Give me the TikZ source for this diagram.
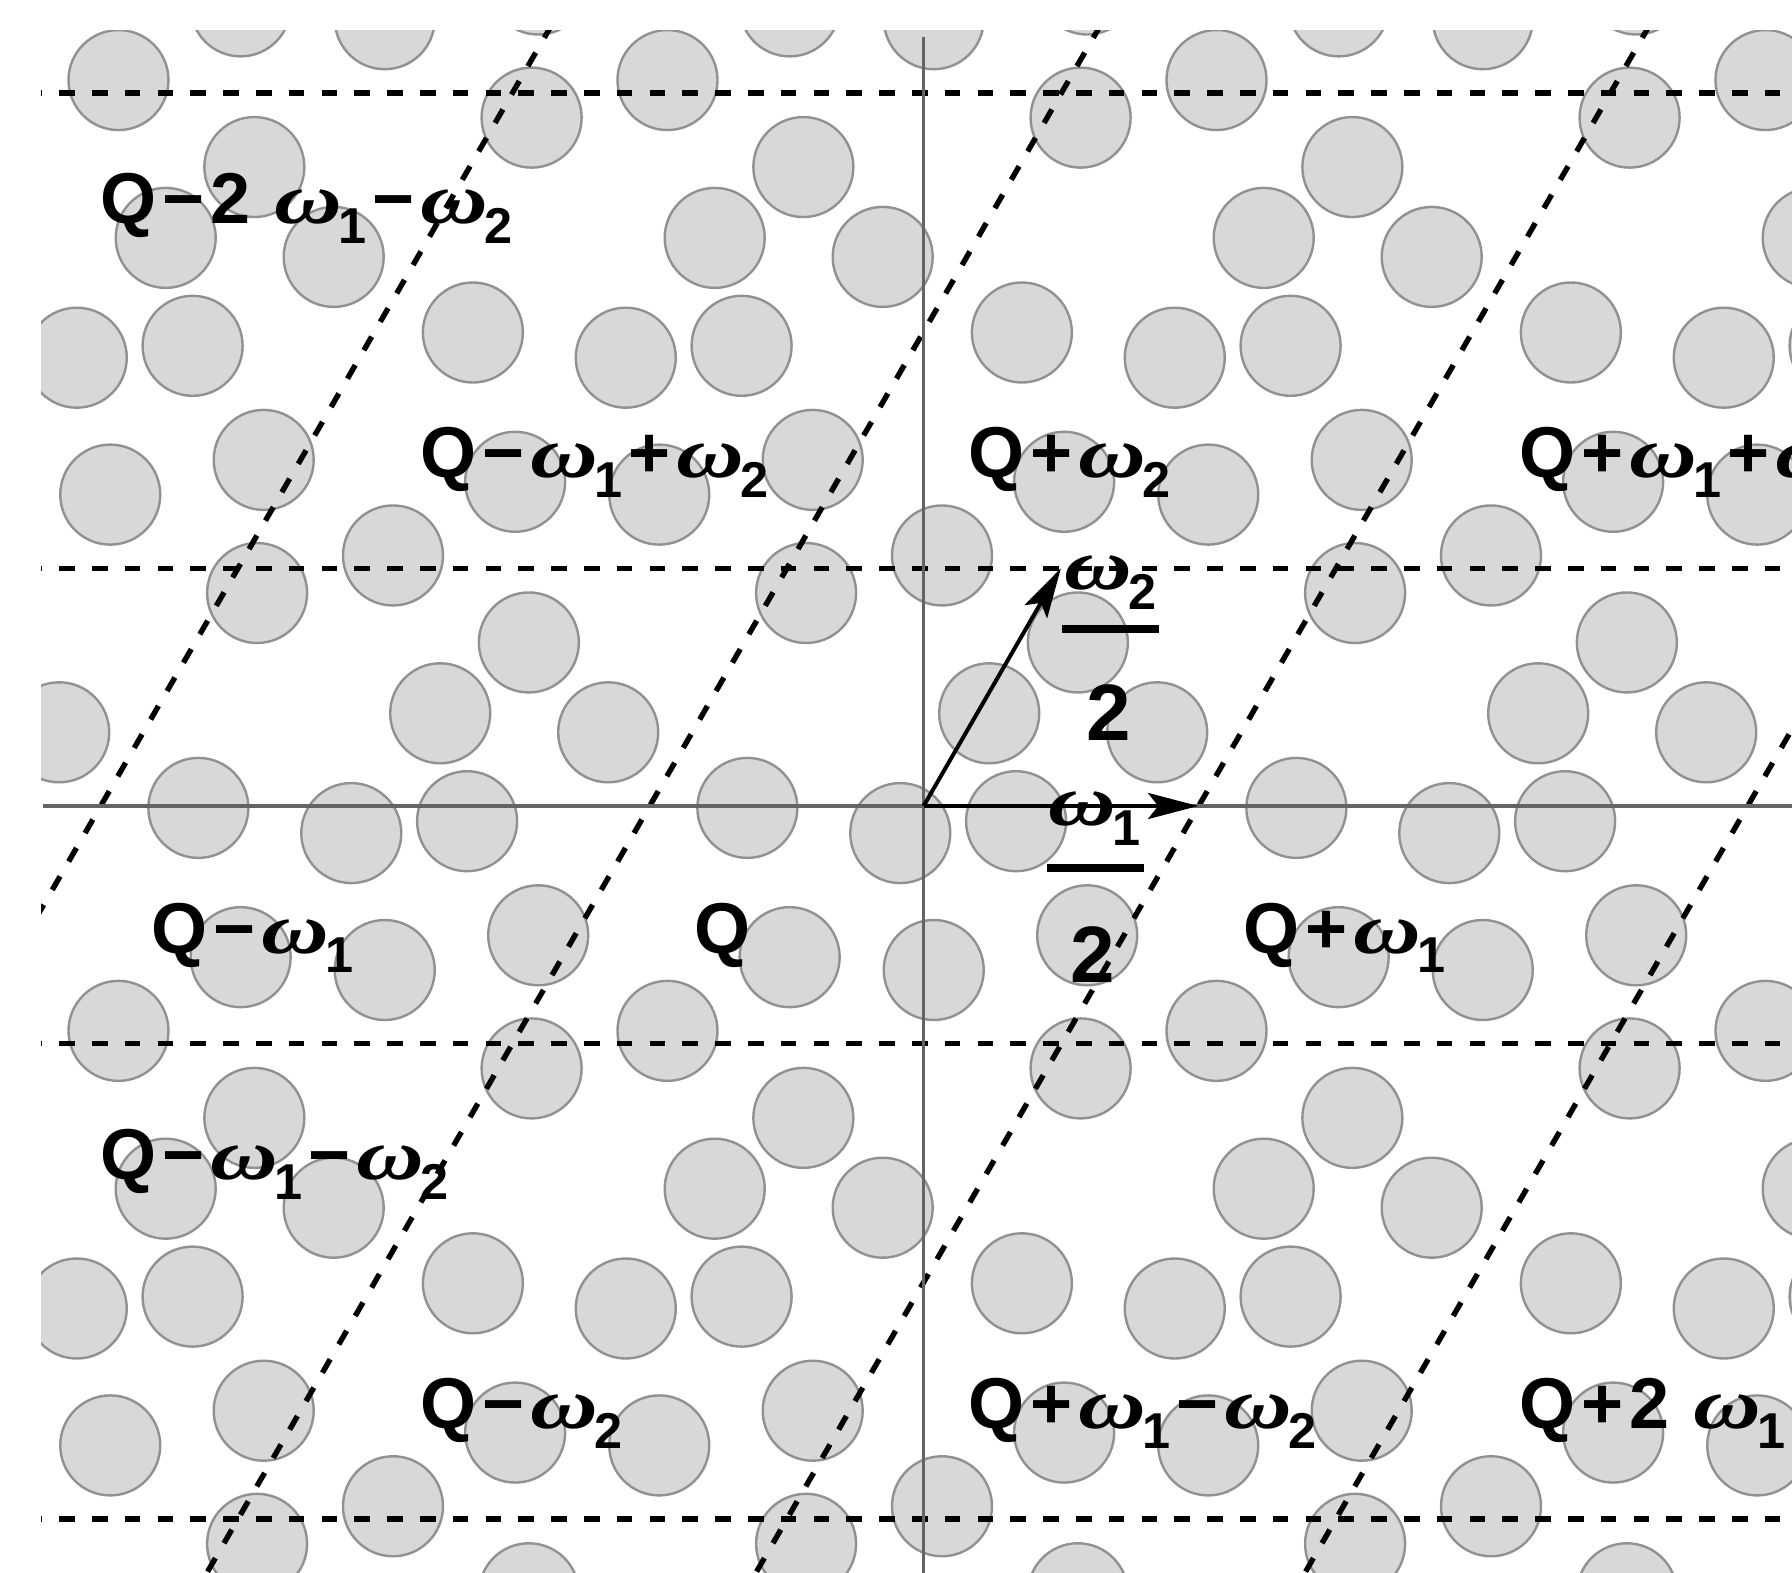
\documentclass[tikz,border=0pt]{standalone}
\usepackage{graphicx}
\usepackage{fontspec}
\setmainfont{Liberation Sans}
\newfontfamily\omfont{Liberation Serif}
\usetikzlibrary{arrows.meta}
\definecolor{diskfill}{RGB}{216,216,216}
\definecolor{diskline}{RGB}{145,145,145}
\definecolor{axisgray}{RGB}{100,100,100}
\newcommand{\om}[1]{{\omfont\bfseries\itshape\scalebox{1.3}[1]{ω}}\kern-1pt\raisebox{-5pt}{\fontsize{12.6}{13}\selectfont\bfseries #1}}
\newcommand{\op}[1]{\kern1.5pt#1\kern1.5pt}
\begin{document}
\begin{tikzpicture}[x=0.25pt,y=-0.25pt,
  disk/.style={fill=diskfill,draw=diskline,line width=0.6pt},
  cellline/.style={line width=1.35pt,dash pattern=on 3.9pt off 4.3pt},
  axisline/.style={draw=axisgray,line width=0.8pt},
  lbl/.style={inner sep=0pt,anchor=base west,font=\bfseries\fontsize{18}{20}\selectfont},
  den/.style={inner sep=0pt,anchor=base,font=\bfseries\fontsize{20}{22}\selectfont},
  fbar/.style={line width=2pt},
  vec/.style={line width=1pt,-{Stealth[length=12.5pt,width=6.5pt,inset=2.5pt]}}]
\useasboundingbox (0,0) rectangle (1792,1573);
\begin{scope}
  \clip (41,30.4) rectangle (1792,1573);
  \foreach \ii in {-4,...,3}{
    \foreach \jj in {-2,...,1}{
      \foreach \pa/\pb in {0.770/0.527,0.915/0.682,0.191/0.655,0.562/0.448,0.109/0.344,0.022/0.195,0.348/0.155,0.986/0.943,0.1845/0.968,0.681/0.996,0.434/0.728}{
        \draw[disk] ({923.6+549*(\pa+\ii)+274.5*(\pb+\jj)},{806-475.4*(\pb+\jj)}) circle[radius=12.5pt];
      }}}
  \foreach \yy in {92.9,568.3,1043.7,1519.1}{
    \draw[cellline] (26.3,\yy) -- (1800,\yy);
  }
  \foreach \xx in {-448.3,100.7,649.7,1198.7,1747.7}{
    \draw[cellline] ({\xx-458.5},1600) -- ({\xx+465.4},0);
  }
  \draw[axisline] (923.6,36.7) -- (923.6,1573);
  \draw[axisline] (43,806) -- (1792,806);
\end{scope}
\coordinate (O) at (923.6,806);
\coordinate (W1) at (1198.1,806);
\coordinate (W2) at (1060.85,568.3);
\draw[vec] (O) -- (W1);
\draw[vec] (O) -- (W2);
% cell labels
\node[lbl] (lA) at (100,224) {Q\op{−}2\hspace{6pt}\om{1}\op{−}\om{2}};
\node[lbl] (lB) at (420,477.5) {Q\op{−}\om{1}\op{+}\om{2}};
\node[lbl] (lC) at (968,477.5) {Q\op{+}\om{2}};
\node[lbl] (lD) at (1519,477.5) {Q\op{+}\om{1}\op{+}\om{2}};
\node[lbl] (lE) at (151,953) {Q\op{−}\om{1}};
\node[lbl] (lF) at (694,953) {Q};
\node[lbl] (lG) at (1243,953) {Q\op{+}\om{1}};
\node[lbl] (lH) at (100,1179) {Q\op{−}\om{1}\op{−}\om{2}};
\node[lbl] (lI) at (420,1428.5) {Q\op{−}\om{2}};
\node[lbl] (lJ) at (968,1428.5) {Q\op{+}\om{1}\op{−}\om{2}};
\node[lbl] (lK) at (1519,1428.5) {Q\op{+}2\hspace{6pt}\om{1}\op{−}\om{2}};
% fractions
\node[lbl] (n2) at (1064,590) {\om{2}};
\coordinate (b2l) at (1062,629.5);
\coordinate (b2r) at (1159,629.5);
\draw[fbar] (b2l) -- (b2r);
\node[den] (d2) at (1108.5,741) {2};
\node[lbl] (n1) at (1048,826) {\om{1}};
\coordinate (b1l) at (1046.6,868);
\coordinate (b1r) at (1144,868);
\draw[fbar] (b1l) -- (b1r);
\node[den] (d1) at (1093,982) {2};
\end{tikzpicture}
\end{document}
